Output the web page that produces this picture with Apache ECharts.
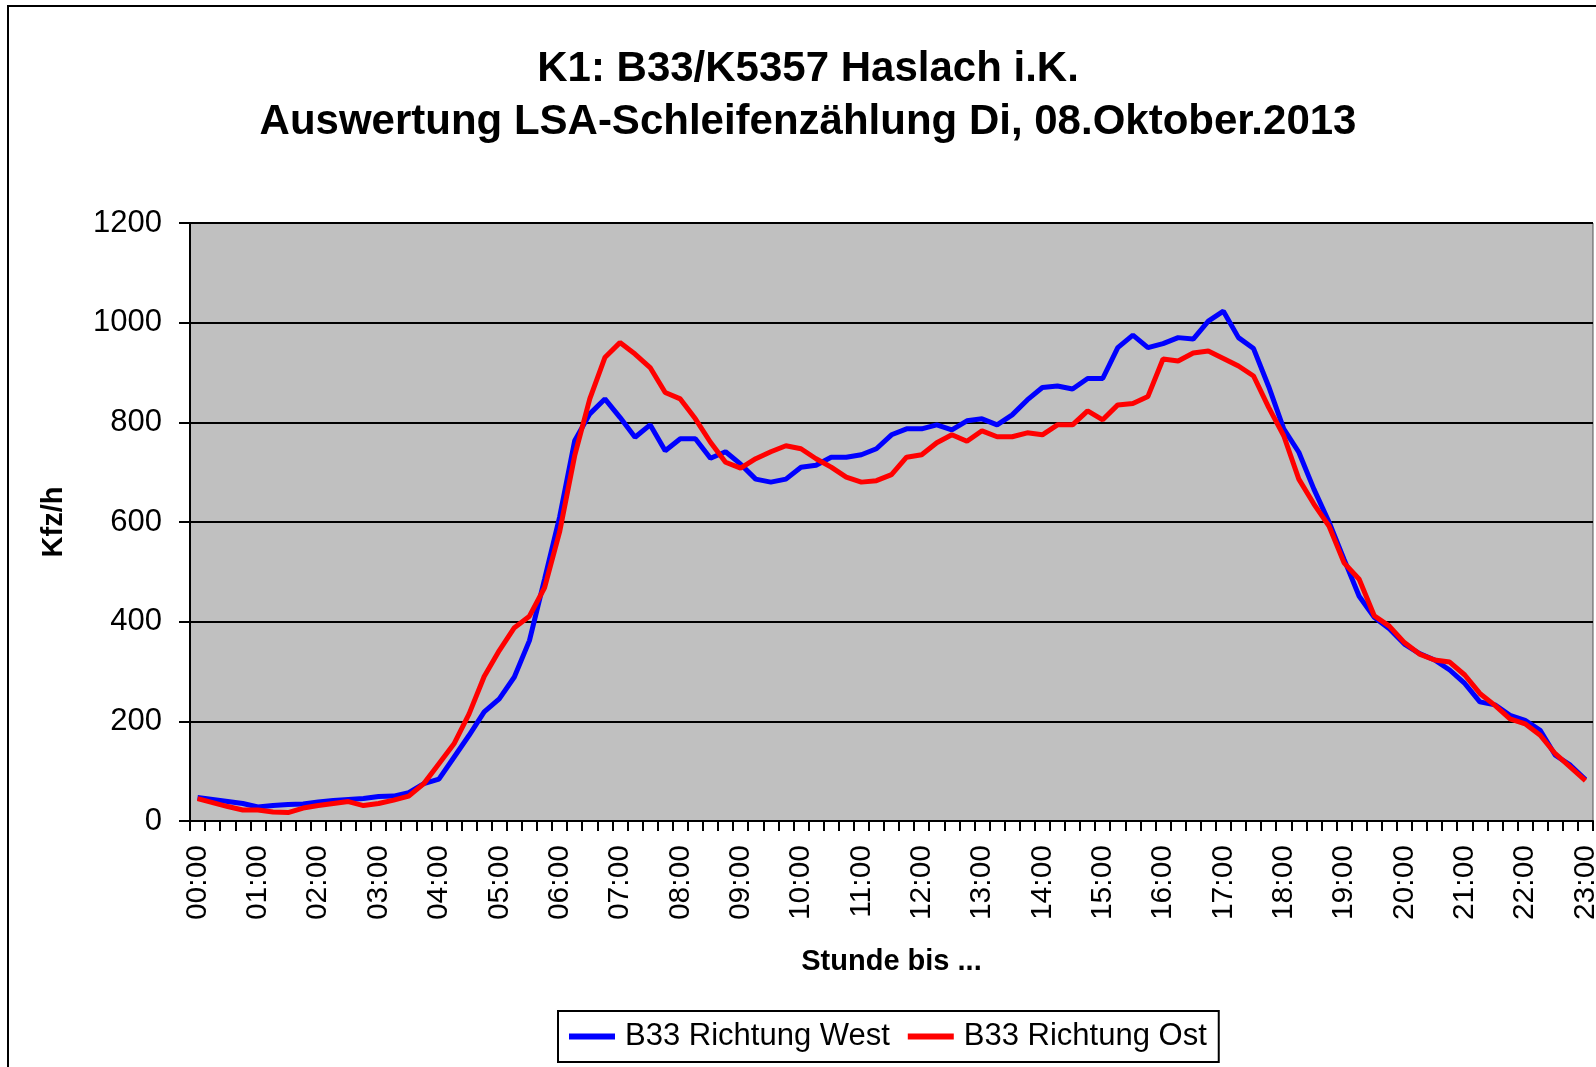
<!DOCTYPE html>
<html>
<head>
<meta charset="utf-8">
<script src="https://cdn.jsdelivr.net/npm/echarts@6/dist/echarts.min.js"></script>
<style>
  body { margin: 0; background: #fff; overflow: hidden; }
  #frame {
    position: absolute; left: 7px; top: 5px;
    width: 1700px; height: 1200px;
    border: 2px solid #000;
  }
  #main { position: absolute; left: 0; top: 0; width: 1596px; height: 1067px; }
</style>
</head>
<body>
<div id="frame"></div>
<div id="main"></div>
<script>
// Kfz/h je Viertelstunde, 00:00 bis 23:00
var west = [
  47, 43, 39, 35, 28, 31, 33, 34, 38, 41, 43, 45, 49, 50, 57, 75,
  84, 128, 172, 219, 245, 289, 362, 485, 610, 763, 817, 847, 810, 770, 795, 743,
  767, 767, 728, 741, 716, 686, 680, 686, 710, 714, 730, 730, 735, 747, 775, 787,
  787, 795, 785, 803, 807, 795, 815, 845, 870, 873, 867, 888, 888, 950, 975, 950,
  958, 970, 967, 1003, 1023, 970, 948, 872, 787, 740, 666, 600, 525, 451, 409, 386,
  355, 336, 323, 303, 276, 239, 233, 212, 202, 182, 132, 112, 83
];
var ost = [
  45, 37, 29, 22, 22, 18, 17, 26, 31, 35, 39, 31, 35, 42, 50, 75,
  115, 155, 215, 290, 342, 388, 411, 468, 580, 733, 847, 930, 960, 937, 910, 860,
  847, 807, 760, 720, 708, 727, 741, 753, 747, 727, 710, 690, 680, 683, 695, 730,
  735, 759, 775, 762, 783, 771, 771, 779, 775, 795, 795, 823, 805, 835, 838, 852,
  927, 923, 939, 943, 928, 913, 893, 830, 773, 686, 636, 592, 518, 485, 412, 391,
  358, 335, 323, 319, 293, 256, 232, 205, 195, 172, 135, 108, 81
];
var yTicks = [0, 200, 400, 600, 800, 1000, 1200];

// Zeitachse in 15-Minuten-Schritten
var zeiten = [];
for (var i = 0; i < west.length; i++) {
  var h = Math.floor(i / 4), m = (i % 4) * 15;
  zeiten.push((h < 10 ? '0' : '') + h + ':' + (m < 10 ? '0' : '') + m);
}

var font = 'Liberation Sans, Arial, sans-serif';
var chart = echarts.init(document.getElementById('main'));

var option = {
  animation: false,
  textStyle: { fontFamily: font, color: '#000' },
  title: {
    text: 'K1: B33/K5357 Haslach i.K.\nAuswertung LSA-Schleifenzählung Di, 08.Oktober.2013',
    left: 808,
    top: 43,
    padding: 0,
    textAlign: 'center',
    textStyle: { fontFamily: font, fontSize: 42, fontWeight: 'bold', lineHeight: 53, color: '#000' }
  },
  legend: {
    left: 558,
    top: 1011,
    padding: [10, 12, 10, 11],
    borderColor: '#000',
    borderWidth: 2,
    backgroundColor: '#fff',
    icon: 'rect',
    itemWidth: 46,
    itemHeight: 6,
    itemGap: 18,
    textStyle: { fontFamily: font, fontSize: 31, color: '#000', padding: [0, 0, 0, 5] },
    data: ['B33 Richtung West', 'B33 Richtung Ost']
  },
  grid: {
    left: 190,
    top: 223,
    right: 3,
    bottom: 246,
    show: true,
    backgroundColor: '#C0C0C0',
    borderColor: '#555',
    borderWidth: 1,
    containLabel: false,
    outerBoundsMode: 'none'
  },
  xAxis: {
    type: 'category',
    data: zeiten,
    boundaryGap: true,
    name: 'Stunde bis ...',
    nameLocation: 'middle',
    nameGap: 126,
    nameTextStyle: { fontFamily: font, fontSize: 29, fontWeight: 'bold', color: '#000' },
    axisLine: { lineStyle: { color: '#000', width: 2 } },
    axisTick: { show: true, interval: 0, length: 10, lineStyle: { color: '#000', width: 2 } },
    axisLabel: { interval: 3, rotate: 90, margin: 24, fontSize: 30, color: '#000', fontFamily: font },
    splitLine: { show: false }
  },
  yAxis: {
    type: 'value',
    min: yTicks[0],
    max: yTicks[yTicks.length - 1],
    interval: 200,
    name: 'Kfz/h',
    nameLocation: 'middle',
    nameGap: 122,
    nameTextStyle: { fontFamily: font, fontSize: 29, fontWeight: 'bold', color: '#000' },
    axisLine: { show: true, lineStyle: { color: '#000', width: 2 } },
    axisTick: { show: true, length: 11, lineStyle: { color: '#000', width: 2 } },
    axisLabel: {
      margin: 28, fontSize: 31, color: '#000', fontFamily: font,
      formatter: function (v) { return String(v); }
    },
    splitLine: { show: true, lineStyle: { color: '#000', width: 2 } }
  },
  series: [
    {
      name: 'B33 Richtung West',
      type: 'line',
      data: west,
      symbol: 'none',
      color: '#0000FF',
      lineStyle: { color: '#0000FF', width: 5 }
    },
    {
      name: 'B33 Richtung Ost',
      type: 'line',
      data: ost,
      symbol: 'none',
      color: '#FF0000',
      lineStyle: { color: '#FF0000', width: 5 }
    }
  ]
};

chart.setOption(option);
</script>
</body>
</html>
